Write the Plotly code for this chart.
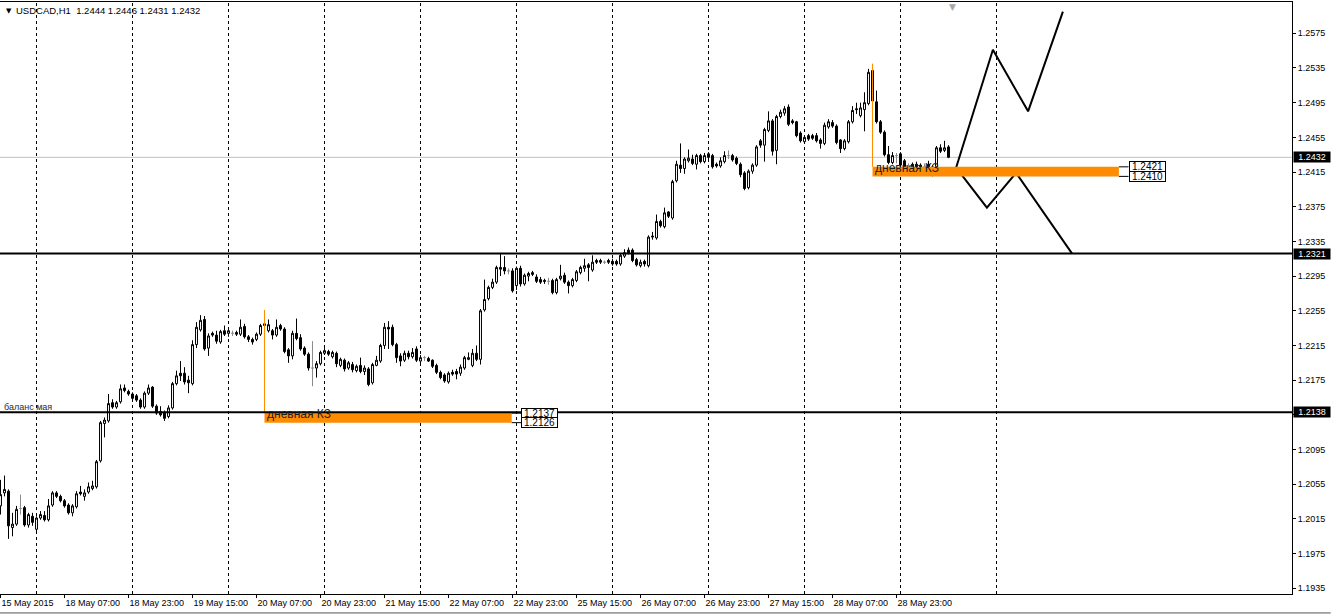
import plotly.graph_objects as go
from datetime import datetime, timedelta

# ---------------- data ----------------
symbol = "USDCAD,H1"
first_bar_time = datetime(2015, 5, 15, 15, 0)

opens = [1.2030, 1.2045, 1.2047, 1.2005, 1.2009, 1.2027, 1.2028, 1.2008, 1.2018, 1.2003,
         1.2016, 1.2019, 1.2014, 1.2031, 1.2045, 1.2041, 1.2036, 1.2031, 1.2022, 1.2029,
         1.2046, 1.2041, 1.2046, 1.2050, 1.2052, 1.2082, 1.2125, 1.2128, 1.2149, 1.2144,
         1.2150, 1.2166, 1.2162, 1.2159, 1.2157, 1.2152, 1.2144, 1.2160, 1.2167, 1.2145,
         1.2139, 1.2137, 1.2133, 1.2143, 1.2171, 1.2183, 1.2183, 1.2175, 1.2171, 1.2216,
         1.2233, 1.2245, 1.2212, 1.2229, 1.2227, 1.2219, 1.2232, 1.2229, 1.2229, 1.2230,
         1.2228, 1.2237, 1.2225, 1.2222, 1.2222, 1.2228, 1.2238, 1.2232, 1.2232, 1.2227,
         1.2238, 1.2234, 1.2210, 1.2203, 1.2229, 1.2224, 1.2212, 1.2205, 1.2189, 1.2189,
         1.2194, 1.2206, 1.2208, 1.2202, 1.2206, 1.2192, 1.2198, 1.2189, 1.2193, 1.2186,
         1.2192, 1.2185, 1.2188, 1.2172, 1.2192, 1.2197, 1.2215, 1.2236, 1.2236, 1.2216,
         1.2203, 1.2198, 1.2206, 1.2202, 1.2211, 1.2197, 1.2201, 1.2200, 1.2198, 1.2192,
         1.2184, 1.2181, 1.2173, 1.2184, 1.2185, 1.2183, 1.2189, 1.2199, 1.2192, 1.2206,
         1.2199, 1.2256, 1.2269, 1.2282, 1.2288, 1.2305, 1.2305, 1.2301, 1.2301, 1.2284,
         1.2304, 1.2286, 1.2295, 1.2299, 1.2294, 1.2291, 1.2290, 1.2289, 1.2290, 1.2276,
         1.2292, 1.2296, 1.2288, 1.2284, 1.2290, 1.2299, 1.2304, 1.2308, 1.2302, 1.2313,
         1.2313, 1.2311, 1.2313, 1.2312, 1.2312, 1.2309, 1.2318, 1.2325, 1.2325, 1.2314,
         1.2307, 1.2312, 1.2307, 1.2340, 1.2339, 1.2358, 1.2352, 1.2369, 1.2362, 1.2405,
         1.2423, 1.2419, 1.2428, 1.2430, 1.2424, 1.2434, 1.2427, 1.2436, 1.2434, 1.2424,
         1.2422, 1.2427, 1.2434, 1.2434, 1.2431, 1.2424, 1.2414, 1.2397, 1.2416, 1.2423,
         1.2451, 1.2446, 1.2463, 1.2474, 1.2440, 1.2479, 1.2483, 1.2490, 1.2474, 1.2473,
         1.2460, 1.2450, 1.2457, 1.2457, 1.2457, 1.2452, 1.2448, 1.2467, 1.2472, 1.2468,
         1.2452, 1.2442, 1.2450, 1.2473, 1.2488, 1.2480, 1.2487, 1.2494, 1.2532, 1.2496,
         1.2473, 1.2461, 1.2435, 1.2426, 1.2434, 1.2436, 1.2428, 1.2422, 1.2424, 1.2424,
         1.2423, 1.2421, 1.2424, 1.2417, 1.2421, 1.2443, 1.2440, 1.2444]
highs = [1.2060, 1.2065, 1.2049, 1.2022, 1.2030, 1.2043, 1.2030, 1.2022, 1.2022, 1.2018,
         1.2024, 1.2024, 1.2038, 1.2047, 1.2047, 1.2043, 1.2038, 1.2033, 1.2032, 1.2047,
         1.2053, 1.2049, 1.2057, 1.2059, 1.2083, 1.2128, 1.2132, 1.2159, 1.2153, 1.2151,
         1.2170, 1.2170, 1.2164, 1.2161, 1.2159, 1.2154, 1.2162, 1.2170, 1.2168, 1.2147,
         1.2145, 1.2140, 1.2146, 1.2173, 1.2186, 1.2197, 1.2190, 1.2180, 1.2221, 1.2242,
         1.2250, 1.2249, 1.2229, 1.2231, 1.2232, 1.2233, 1.2238, 1.2236, 1.2232, 1.2232,
         1.2245, 1.2240, 1.2227, 1.2224, 1.2230, 1.2240, 1.2243, 1.2245, 1.2234, 1.2245,
         1.2240, 1.2236, 1.2212, 1.2232, 1.2246, 1.2228, 1.2214, 1.2207, 1.2220, 1.2197,
         1.2209, 1.2212, 1.2210, 1.2209, 1.2208, 1.2201, 1.2200, 1.2197, 1.2196, 1.2193,
         1.2201, 1.2192, 1.2190, 1.2195, 1.2203, 1.2217, 1.2241, 1.2243, 1.2239, 1.2218,
         1.2206, 1.2209, 1.2209, 1.2212, 1.2214, 1.2204, 1.2203, 1.2202, 1.2199, 1.2194,
         1.2186, 1.2183, 1.2185, 1.2187, 1.2188, 1.2193, 1.2203, 1.2207, 1.2211, 1.2215,
         1.2257, 1.2291, 1.2284, 1.2292, 1.2307, 1.2321, 1.2318, 1.2304, 1.2304, 1.2306,
         1.2307, 1.2298, 1.2300, 1.2301, 1.2297, 1.2294, 1.2292, 1.2293, 1.2292, 1.2293,
         1.2308, 1.2299, 1.2290, 1.2293, 1.2302, 1.2307, 1.2315, 1.2310, 1.2319, 1.2315,
         1.2315, 1.2313, 1.2315, 1.2315, 1.2314, 1.2321, 1.2326, 1.2328, 1.2327, 1.2316,
         1.2314, 1.2314, 1.2342, 1.2346, 1.2366, 1.2360, 1.2374, 1.2370, 1.2406, 1.2428,
         1.2448, 1.2432, 1.2441, 1.2435, 1.2436, 1.2436, 1.2437, 1.2438, 1.2436, 1.2426,
         1.2432, 1.2439, 1.2440, 1.2436, 1.2433, 1.2426, 1.2416, 1.2418, 1.2425, 1.2446,
         1.2453, 1.2466, 1.2485, 1.2476, 1.2481, 1.2487, 1.2491, 1.2493, 1.2476, 1.2474,
         1.2462, 1.2457, 1.2459, 1.2459, 1.2460, 1.2454, 1.2472, 1.2476, 1.2475, 1.2470,
         1.2453, 1.2453, 1.2475, 1.2491, 1.2495, 1.2495, 1.2507, 1.2534, 1.2535, 1.2509,
         1.2475, 1.2463, 1.2445, 1.2438, 1.2437, 1.2438, 1.2430, 1.2425, 1.2426, 1.2427,
         1.2425, 1.2425, 1.2428, 1.2423, 1.2445, 1.2447, 1.2451, 1.2446]
lows = [1.2020, 1.2041, 1.1992, 1.1995, 1.2007, 1.2020, 1.2006, 1.2005, 1.2007, 1.1999,
        1.2014, 1.2012, 1.2012, 1.2029, 1.2039, 1.2034, 1.2028, 1.2020, 1.2018, 1.2027,
        1.2042, 1.2036, 1.2044, 1.2048, 1.2050, 1.2080, 1.2109, 1.2126, 1.2142, 1.2142,
        1.2148, 1.2161, 1.2157, 1.2152, 1.2150, 1.2142, 1.2142, 1.2158, 1.2143, 1.2135,
        1.2133, 1.2128, 1.2131, 1.2141, 1.2169, 1.2174, 1.2170, 1.2160, 1.2169, 1.2212,
        1.2231, 1.2209, 1.2203, 1.2225, 1.2217, 1.2217, 1.2226, 1.2225, 1.2226, 1.2226,
        1.2226, 1.2223, 1.2219, 1.2216, 1.2220, 1.2226, 1.2235, 1.2230, 1.2222, 1.2225,
        1.2232, 1.2206, 1.2195, 1.2199, 1.2221, 1.2209, 1.2203, 1.2186, 1.2168, 1.2178,
        1.2192, 1.2204, 1.2203, 1.2200, 1.2190, 1.2190, 1.2185, 1.2187, 1.2184, 1.2184,
        1.2183, 1.2181, 1.2168, 1.2170, 1.2191, 1.2195, 1.2211, 1.2211, 1.2214, 1.2195,
        1.2191, 1.2196, 1.2199, 1.2200, 1.2196, 1.2193, 1.2197, 1.2196, 1.2189, 1.2182,
        1.2176, 1.2172, 1.2171, 1.2180, 1.2176, 1.2180, 1.2187, 1.2198, 1.2190, 1.2197,
        1.2193, 1.2254, 1.2267, 1.2280, 1.2286, 1.2295, 1.2297, 1.2297, 1.2276, 1.2279,
        1.2283, 1.2284, 1.2289, 1.2295, 1.2287, 1.2286, 1.2286, 1.2285, 1.2274, 1.2274,
        1.2290, 1.2286, 1.2275, 1.2282, 1.2288, 1.2297, 1.2300, 1.2289, 1.2300, 1.2309,
        1.2309, 1.2309, 1.2309, 1.2307, 1.2307, 1.2307, 1.2316, 1.2320, 1.2311, 1.2306,
        1.2305, 1.2306, 1.2305, 1.2337, 1.2337, 1.2351, 1.2350, 1.2362, 1.2360, 1.2403,
        1.2414, 1.2413, 1.2426, 1.2423, 1.2418, 1.2425, 1.2425, 1.2430, 1.2419, 1.2420,
        1.2420, 1.2425, 1.2430, 1.2427, 1.2423, 1.2409, 1.2394, 1.2395, 1.2413, 1.2421,
        1.2443, 1.2427, 1.2461, 1.2434, 1.2424, 1.2477, 1.2480, 1.2468, 1.2470, 1.2455,
        1.2449, 1.2448, 1.2451, 1.2452, 1.2449, 1.2442, 1.2446, 1.2465, 1.2466, 1.2447,
        1.2437, 1.2440, 1.2448, 1.2471, 1.2482, 1.2478, 1.2462, 1.2492, 1.2495, 1.2471,
        1.2459, 1.2433, 1.2424, 1.2424, 1.2425, 1.2421, 1.2418, 1.2419, 1.2416, 1.2417,
        1.2415, 1.2417, 1.2418, 1.2410, 1.2419, 1.2437, 1.2438, 1.2431]
closes = [1.2043, 1.2049, 1.2007, 1.2009, 1.2026, 1.2027, 1.2008, 1.2020, 1.2011, 1.2016,
          1.2020, 1.2014, 1.2030, 1.2045, 1.2041, 1.2036, 1.2030, 1.2022, 1.2030, 1.2044,
          1.2044, 1.2045, 1.2052, 1.2053, 1.2081, 1.2126, 1.2129, 1.2148, 1.2144, 1.2149,
          1.2165, 1.2163, 1.2159, 1.2154, 1.2152, 1.2144, 1.2160, 1.2166, 1.2145, 1.2137,
          1.2135, 1.2131, 1.2143, 1.2171, 1.2180, 1.2180, 1.2173, 1.2172, 1.2216, 1.2236,
          1.2244, 1.2211, 1.2226, 1.2227, 1.2220, 1.2231, 1.2228, 1.2232, 1.2229, 1.2228,
          1.2236, 1.2225, 1.2222, 1.2219, 1.2228, 1.2238, 1.2240, 1.2239, 1.2227, 1.2236,
          1.2234, 1.2208, 1.2203, 1.2229, 1.2223, 1.2211, 1.2205, 1.2189, 1.2189, 1.2194,
          1.2207, 1.2209, 1.2205, 1.2207, 1.2194, 1.2199, 1.2188, 1.2195, 1.2187, 1.2191,
          1.2185, 1.2189, 1.2170, 1.2193, 1.2198, 1.2215, 1.2236, 1.2234, 1.2216, 1.2201,
          1.2197, 1.2206, 1.2202, 1.2207, 1.2198, 1.2201, 1.2201, 1.2197, 1.2191, 1.2184,
          1.2178, 1.2174, 1.2183, 1.2182, 1.2182, 1.2190, 1.2201, 1.2201, 1.2206, 1.2199,
          1.2255, 1.2268, 1.2282, 1.2288, 1.2305, 1.2303, 1.2301, 1.2301, 1.2278, 1.2304,
          1.2286, 1.2296, 1.2298, 1.2297, 1.2289, 1.2288, 1.2289, 1.2289, 1.2276, 1.2291,
          1.2295, 1.2288, 1.2284, 1.2291, 1.2300, 1.2305, 1.2307, 1.2305, 1.2311, 1.2311,
          1.2311, 1.2311, 1.2311, 1.2309, 1.2309, 1.2319, 1.2322, 1.2322, 1.2313, 1.2308,
          1.2311, 1.2309, 1.2340, 1.2341, 1.2358, 1.2353, 1.2368, 1.2364, 1.2404, 1.2424,
          1.2419, 1.2430, 1.2431, 1.2425, 1.2434, 1.2427, 1.2434, 1.2432, 1.2421, 1.2422,
          1.2428, 1.2434, 1.2434, 1.2429, 1.2425, 1.2412, 1.2396, 1.2416, 1.2423, 1.2444,
          1.2446, 1.2464, 1.2474, 1.2439, 1.2479, 1.2484, 1.2488, 1.2470, 1.2472, 1.2457,
          1.2451, 1.2455, 1.2453, 1.2454, 1.2451, 1.2448, 1.2469, 1.2473, 1.2468, 1.2449,
          1.2442, 1.2451, 1.2473, 1.2486, 1.2487, 1.2489, 1.2495, 1.2530, 1.2497, 1.2473,
          1.2461, 1.2435, 1.2426, 1.2434, 1.2434, 1.2423, 1.2421, 1.2422, 1.2419, 1.2420,
          1.2417, 1.2421, 1.2420, 1.2421, 1.2443, 1.2439, 1.2443, 1.2432]

price_ticks = [1.1935, 1.1975, 1.2015, 1.2055, 1.2095, 1.2135, 1.2175, 1.2215, 1.2255,
               1.2295, 1.2335, 1.2375, 1.2415, 1.2455, 1.2495, 1.2535, 1.2575]
price_range = [1.19284, 1.26111]
label_every = 16            # bars between time labels

bid_price = 1.2432
level_prices = [1.2321, 1.2138]
level_note = "баланс мая"

zone_label = "дневная КЗ"
zone_start = [66, 218]
zone_end = [127.8, 279.6]
zone_low = [1.2126, 1.2410]
zone_high = [1.2137, 1.2421]
zone_mark_top = [1.2256, 1.2540]

fc_up_x = [238.9, 248.1, 256.9, 265.6]
fc_up_y = [1.2420, 1.2556, 1.2485, 1.2600]
fc_dn_x = [238.9, 246.6, 253.9, 267.9]
fc_dn_y = [1.2420, 1.2374, 1.2414, 1.2321]

# ---------------- derived ----------------
n = len(closes)
times = []
t = first_bar_time
while len(times) < n:
    if t.weekday() < 5:
        times.append(t)
    t += timedelta(hours=1)

# midnights (day separators), plus the next one in the future
grid_bars = [i for i, tt in enumerate(times) if tt.hour == 0]
grid_bars.append(n - 1 + (24 - times[-1].hour))

tick_idx = list(range(0, n, label_every))
tick_txt = []
for i in tick_idx:
    tt = times[i]
    tick_txt.append(tt.strftime("%d %b %Y") if i == 0 else tt.strftime("%d %b %H:%M"))

# price-scale labels hidden behind the highlighted level boxes
marked = [bid_price] + level_prices
price_txt = ["" if any(abs(v - m) < 0.0006 for m in marked) else f"{v:.4f}" for v in price_ticks]

xs = list(range(n))
doji = [i for i in xs if opens[i] == closes[i]]
body = [i for i in xs if opens[i] != closes[i]]

FONT = "Liberation Sans"
fig = go.Figure()

fig.add_trace(go.Candlestick(
    x=body, open=[opens[i] for i in body], high=[highs[i] for i in body],
    low=[lows[i] for i in body], close=[closes[i] for i in body],
    increasing=dict(fillcolor="white", line=dict(color="black", width=1)),
    decreasing=dict(fillcolor="black", line=dict(color="black", width=1)),
    hoverinfo="skip", showlegend=False))
fig.add_trace(go.Candlestick(
    x=doji, open=[opens[i] for i in doji], high=[highs[i] for i in doji],
    low=[lows[i] for i in doji], close=[closes[i] for i in doji],
    increasing=dict(fillcolor="#8c8c8c", line=dict(color="#8c8c8c", width=1)),
    decreasing=dict(fillcolor="#8c8c8c", line=dict(color="#8c8c8c", width=1)),
    hoverinfo="skip", showlegend=False))

for fx, fy in ((fc_up_x, fc_up_y), (fc_dn_x, fc_dn_y)):
    fig.add_trace(go.Scatter(x=fx, y=fy, mode="lines", line=dict(color="black", width=2),
                             hoverinfo="skip", showlegend=False))

shapes = []
for g in grid_bars:
    shapes.append(dict(type="line", xref="x", yref="paper", x0=g, x1=g, y0=0, y1=1,
                       line=dict(color="black", width=1, dash="3px,3px"), layer="below"))
shapes.append(dict(type="line", xref="paper", yref="y", x0=0, x1=1, y0=bid_price, y1=bid_price,
                   line=dict(color="#c0c0c0", width=1), layer="below"))
for k in range(len(zone_start)):
    shapes.append(dict(type="rect", xref="x", yref="y", x0=zone_start[k], x1=zone_end[k],
                       y0=zone_low[k], y1=zone_high[k], fillcolor="#ff8c00",
                       line=dict(width=0), layer="above"))
    shapes.append(dict(type="line", xref="x", yref="y", x0=zone_start[k], x1=zone_start[k],
                       y0=zone_high[k], y1=zone_mark_top[k],
                       line=dict(color="#ff8c00", width=1), layer="above"))
    for p in (zone_high[k], zone_low[k]):
        shapes.append(dict(type="line", xref="x", yref="y", x0=zone_end[k], x1=zone_end[k] + 2.4,
                           y0=p, y1=p, line=dict(color="black", width=1)))
for lp in level_prices:
    shapes.append(dict(type="line", xref="paper", yref="y", x0=0, x1=1, y0=lp, y1=lp,
                       line=dict(color="black", width=2)))
# window frame line below time scale
shapes.append(dict(type="line", xref="paper", yref="paper", x0=0, x1=1.03, y0=-0.032, y1=-0.032,
                   line=dict(color="#555555", width=1)))

ann = []
ann.append(dict(xref="paper", yref="paper", x=0.0028, y=1, xanchor="left", yanchor="top",
                yshift=-3, text="▼", showarrow=False,
                font=dict(family="DejaVu Sans", size=7, color="black")))
ann.append(dict(xref="paper", yref="paper", x=0.0112, y=1, xanchor="left", yanchor="top",
                yshift=-1, showarrow=False,
                text=f"{symbol}\u00a0\u00a0{opens[-1]:.4f} {highs[-1]:.4f} {lows[-1]:.4f} {closes[-1]:.4f}",
                font=dict(family=FONT, size=9.5, color="black")))
# chart shift marker
ann.append(dict(xref="x", yref="paper", x=n + 0.1, y=1, xanchor="center", yanchor="top",
                yshift=2, text="▼", showarrow=False,
                font=dict(family="DejaVu Sans", size=9, color="#a8a8a8")))
ann.append(dict(xref="x", yref="y", x=0.4, y=level_prices[1], xanchor="left", yanchor="bottom",
                yshift=-2, text=level_note, showarrow=False,
                font=dict(family=FONT, size=9, color="#2a2a2a")))
for k in range(len(zone_start)):
    ann.append(dict(xref="x", yref="y", x=zone_start[k] + 0.1, y=zone_high[k], xanchor="left",
                    yanchor="middle", yshift=-1, text=zone_label, showarrow=False,
                    font=dict(family=FONT, size=12, color="#1e1e1e")))
    for p in (zone_high[k], zone_low[k]):
        ann.append(dict(xref="x", yref="y", x=zone_end[k] + 2.4, y=p, xanchor="left",
                        yanchor="middle", text=f"{p:.4f}", showarrow=False,
                        bgcolor="white", bordercolor="black", borderwidth=1, borderpad=0,
                        height=9, width=35,
                        font=dict(family=FONT, size=10, color="black")))
for p in marked:
    ann.append(dict(xref="paper", yref="y", x=1, y=p, xanchor="left", yanchor="middle",
                    xshift=1, text=f"{p:.4f}", showarrow=False, bgcolor="black",
                    borderpad=0, height=10, width=36, align="center",
                    font=dict(family=FONT, size=9, color="white")))

fig.update_layout(
    width=1333, height=615,
    margin=dict(l=0, r=41, t=2, b=21),
    paper_bgcolor="white", plot_bgcolor="white",
    showlegend=False, hovermode=False,
    shapes=shapes, annotations=ann,
    font=dict(family=FONT, size=9, color="black"),
    xaxis=dict(range=[-0.125, -0.125 + 1292 / 4], tickmode="array", tickvals=tick_idx,
               ticktext=tick_txt, ticks="outside", ticklen=3, tickcolor="black",
               ticklabelposition="outside right", showgrid=False, zeroline=False,
               showline=True, linecolor="black", linewidth=1, mirror=True,
               rangeslider=dict(visible=False), fixedrange=True,
               tickfont=dict(family=FONT, size=9, color="black")),
    yaxis=dict(range=price_range, side="right", tickmode="array", tickvals=price_ticks,
               ticktext=price_txt, ticks="outside", ticklen=3,
               tickcolor="black", showgrid=False, zeroline=False, showline=True,
               linecolor="black", linewidth=1, fixedrange=True,
               tickfont=dict(family=FONT, size=9, color="black")),
)

fig.write_html("out.html", config={"displayModeBar": False},
               post_script="document.body.style.margin='0';document.body.style.overflow='hidden';")
